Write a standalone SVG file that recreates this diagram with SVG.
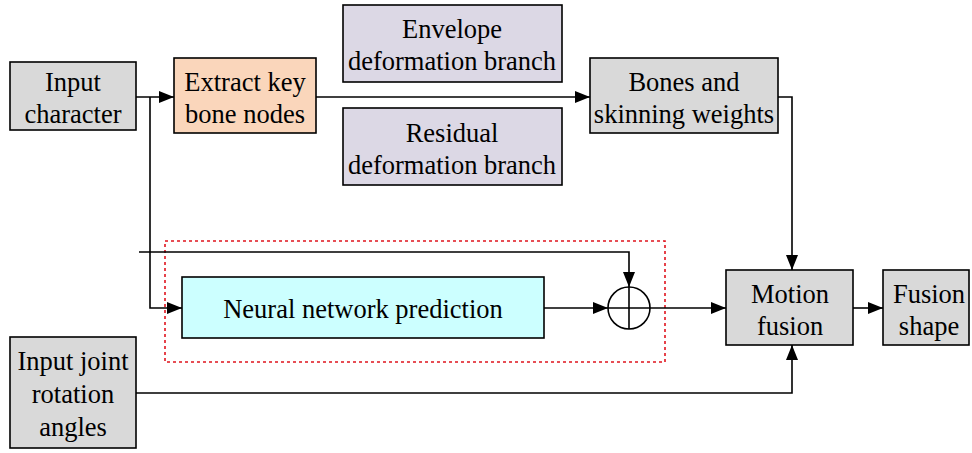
<svg xmlns="http://www.w3.org/2000/svg" width="972" height="453" viewBox="0 0 972 453" font-family="'Liberation Serif', 'Times New Roman', serif">
<style>
text{font-family:"Liberation Serif","Times New Roman",serif;font-size:26.5px;fill:#000;text-anchor:middle}
.b{stroke:#000;stroke-width:1.6}
.g{fill:#d9d9d9}
.l{fill:#dcd8e5}
.c{stroke:#000;stroke-width:1.6;fill:none}
</style>
<defs>
<marker id="a" markerWidth="15" markerHeight="12" refX="15" refY="6" orient="auto" markerUnits="userSpaceOnUse">
<path d="M0,0L15,6L0,12z" fill="#000"/>
</marker>
</defs>
<rect width="972" height="453" fill="#fff"/>
<g id="group-dashed">
<rect x="165" y="241" width="500" height="121" fill="none" stroke="#e0141e" stroke-width="1.6" stroke-dasharray="3,3"/>
</g>
<g id="connectors">
<path class="c" d="M136,97H174" marker-end="url(#a)"/>
<path class="c" d="M316,97H590" marker-end="url(#a)"/>
<path class="c" d="M150,97V308H182" marker-end="url(#a)"/>
<path class="c" d="M139,252H629V287" marker-end="url(#a)"/>
<path class="c" d="M544,308H608" marker-end="url(#a)"/>
<path class="c" d="M650,308H726" marker-end="url(#a)"/>
<path class="c" d="M778,97H792V270" marker-end="url(#a)"/>
<path class="c" d="M136,393H792V345" marker-end="url(#a)"/>
<path class="c" d="M853,308H883" marker-end="url(#a)"/>
</g>
<g id="input-character">
<rect class="b g" x="10" y="62" width="126" height="68"/>
<text x="73" y="91">Input</text>
<text x="73" y="123">character</text>
</g>
<g id="extract-key-bone-nodes">
<rect class="b" fill="#fad6bb" x="174" y="58" width="142" height="75"/>
<text x="245" y="91">Extract key</text>
<text x="245" y="123">bone nodes</text>
</g>
<g id="envelope-branch">
<rect class="b l" x="343" y="5" width="219" height="77"/>
<text x="452" y="38">Envelope</text>
<text x="452" y="70">deformation branch</text>
</g>
<g id="residual-branch">
<rect class="b l" x="343" y="108" width="219" height="77"/>
<text x="452" y="142">Residual</text>
<text x="452" y="174">deformation branch</text>
</g>
<g id="bones-skinning">
<rect class="b g" x="590" y="58" width="188" height="75"/>
<text x="684" y="91">Bones and</text>
<text x="684" y="123">skinning weights</text>
</g>
<g id="neural-network">
<rect class="b" fill="#ccffff" x="182" y="277" width="362" height="61"/>
<text x="363" y="318">Neural network prediction</text>
</g>
<g id="sum">
<circle class="c" cx="629" cy="308" r="21"/>
<path class="c" d="M608,308H650M629,287V329"/>
</g>
<g id="motion-fusion">
<rect class="b g" x="726" y="270" width="127" height="75"/>
<text x="790" y="303">Motion</text>
<text x="790" y="335">fusion</text>
</g>
<g id="fusion-shape">
<rect class="b g" x="883" y="270" width="86" height="75"/>
<text x="929" y="303">Fusion</text>
<text x="929" y="335">shape</text>
</g>
<g id="input-joint-angles">
<rect class="b g" x="10" y="337" width="126" height="111"/>
<text x="73" y="370">Input joint</text>
<text x="73" y="403">rotation</text>
<text x="73" y="436">angles</text>
</g>
</svg>
